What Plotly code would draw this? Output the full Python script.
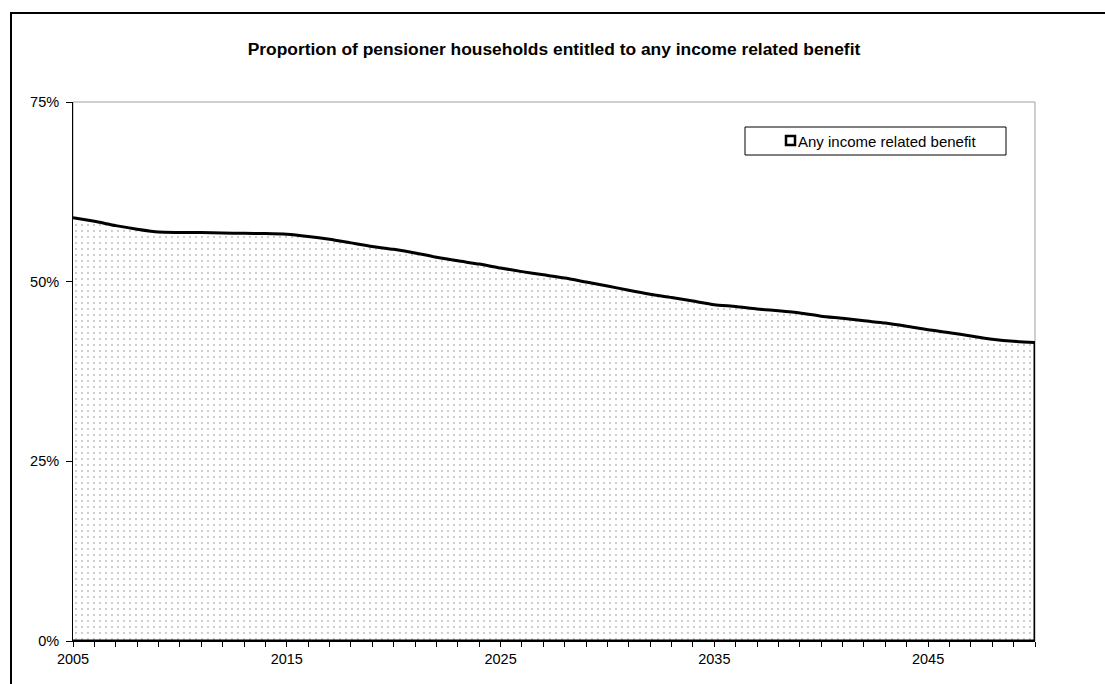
import plotly.graph_objects as go

# Projection years and share of pensioner households entitled to any income related benefit (%)
years = list(range(2005, 2051))
share_any_benefit = [
    58.9, 58.4, 57.8, 57.3, 56.9, 56.85, 56.83, 56.77, 56.73, 56.7,
    56.6, 56.3, 55.9, 55.4, 54.9, 54.5, 54.0, 53.4, 52.9, 52.45,
    51.9, 51.4, 50.95, 50.5, 49.95, 49.4, 48.8, 48.25, 47.8, 47.3,
    46.8, 46.55, 46.2, 45.95, 45.65, 45.2, 44.9, 44.55, 44.25, 43.8,
    43.3, 42.9, 42.45, 42.0, 41.7, 41.55,
]
y_ticks = [0, 25, 50, 75]
y_tick_labels = ["0%", "25%", "50%", "75%"]
x_label_years = [2005, 2015, 2025, 2035, 2045]
series_name = "Any income related benefit"
title_text = "Proportion of pensioner households entitled to any income related benefit"

W, H = 1105, 684
L, R, T, B = 73, 70, 102, 43
PW, PH = W - L - R, H - T - B
FONT = "Liberation Sans, Arial, sans-serif"


def px_x(px):
    return (px - L) / PW


def px_y(py):
    return (H - B - py) / PH


fig = go.Figure()

# dotted area under the curve, with the curve itself as its top edge
fig.add_trace(go.Scatter(
    x=years, y=share_any_benefit,
    mode="lines", fill="tozeroy",
    line=dict(color="black", width=3, shape="spline", smoothing=0.6),
    fillcolor="white",
    fillpattern=dict(shape=".", fgcolor="black", bgcolor="white",
                     size=6, solidity=0.045),
    name=series_name, showlegend=False,
))

# right edge and baseline of the area
fig.add_trace(go.Scatter(
    x=[years[-1], years[-1], years[0]],
    y=[share_any_benefit[-1], 0, 0],
    mode="lines", line=dict(color="black", width=3),
    hoverinfo="skip", showlegend=False,
))

shapes = [
    # plot area frame
    dict(type="rect", xref="x domain", yref="y domain", x0=0, x1=1, y0=0, y1=1,
         line=dict(color="#a0a0a0", width=1), layer="below"),
    # outer chart border (left and top edges fall inside the page)
    dict(type="line", xref="paper", yref="paper",
         x0=px_x(11), x1=px_x(11), y0=px_y(H + 10), y1=px_y(13),
         line=dict(color="black", width=2)),
    dict(type="line", xref="paper", yref="paper",
         x0=px_x(10), x1=px_x(W + 10), y0=px_y(13), y1=px_y(13),
         line=dict(color="black", width=2)),
    # legend box
    dict(type="rect", xref="paper", yref="paper",
         x0=px_x(745), x1=px_x(1006), y0=px_y(155), y1=px_y(127),
         line=dict(color="black", width=1), fillcolor="white"),
    # legend key
    dict(type="rect", xref="paper", yref="paper",
         x0=px_x(786), x1=px_x(795), y0=px_y(145), y1=px_y(136),
         line=dict(color="black", width=2.5), fillcolor="white"),
]

annotations = [
    dict(text=series_name, xref="paper", yref="paper",
         x=px_x(796), y=px_y(141), xanchor="left", yanchor="middle",
         showarrow=False, font=dict(family=FONT, size=15, color="black")),
]

fig.update_layout(
    width=W, height=H,
    margin=dict(l=L, r=R, t=T, b=B, pad=0),
    paper_bgcolor="white", plot_bgcolor="white",
    font=dict(family=FONT, size=14, color="black"),
    title=dict(text="<b>" + title_text + "</b>", x=0.5, xref="paper",
               y=1 - 49 / H, yref="container", yanchor="middle",
               font=dict(family=FONT, size=17.4, color="black")),
    shapes=shapes, annotations=annotations,
    showlegend=False,
    xaxis=dict(range=[years[0], years[-1]], tickmode="array",
               tickvals=x_label_years, ticktext=[str(v) for v in x_label_years],
               ticks="outside", ticklen=5, tickcolor="black", tickwidth=1,
               minor=dict(tickmode="linear", tick0=years[0], dtick=1,
                          ticks="outside", ticklen=5, tickcolor="black"),
               showline=True, linecolor="black", linewidth=1,
               showgrid=False, zeroline=False,
               tickfont=dict(family=FONT, size=14.5, color="black")),
    yaxis=dict(range=[0, 75], tickmode="array", tickvals=y_ticks,
               ticktext=y_tick_labels, ticks="outside", ticklen=6,
               tickcolor="black", ticklabelstandoff=4,
               showline=True, linecolor="black", linewidth=1,
               showgrid=False, zeroline=False,
               tickfont=dict(family=FONT, size=14.5, color="black")),
)

fig.write_html("out.html")
